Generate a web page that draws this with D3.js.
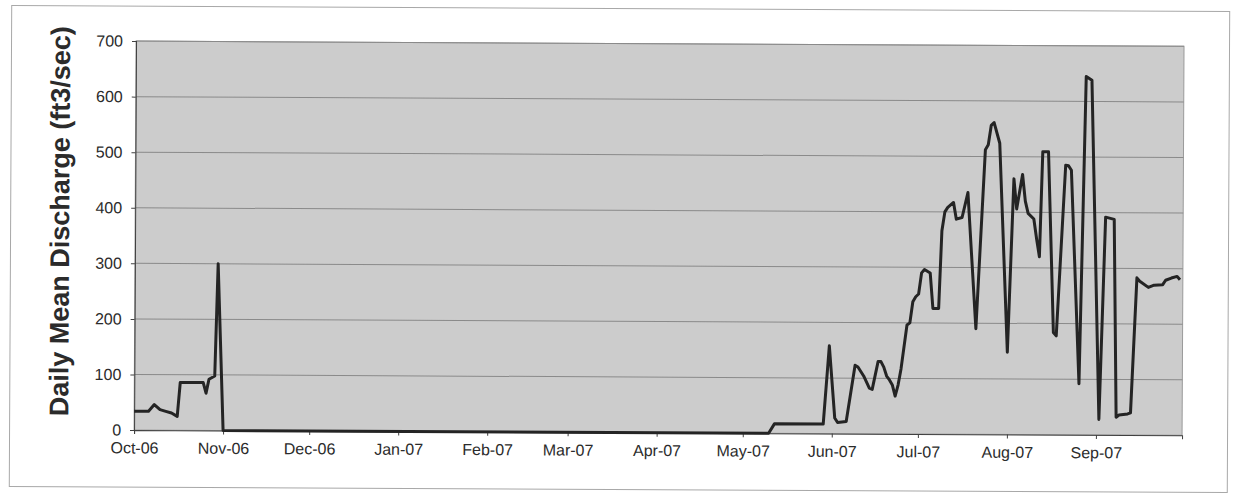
<!DOCTYPE html>
<html>
<head>
<meta charset="utf-8">
<script src="https://cdn.jsdelivr.net/npm/d3@7/dist/d3.min.js"></script>
<style>
  html, body { margin: 0; padding: 0; background: #ffffff; }
  svg { display: block; }
  text { font-family: "Liberation Sans", Arial, sans-serif; fill: #2b2b2b; }
</style>
</head>
<body>
<svg id="chart" width="1236" height="496"></svg>
<script>
// ---- data ----
const axisStart = "2006-10-01";
const axisEnd = "2007-10-01";

const obsDates = [
  "2006-10-01","2006-10-06","2006-10-08","2006-10-10","2006-10-12","2006-10-14","2006-10-16","2006-10-17",
  "2006-10-25","2006-10-26","2006-10-27","2006-10-29","2006-10-30","2006-11-01",
  "2007-05-10","2007-05-12","2007-05-29","2007-05-31","2007-06-02","2007-06-03","2007-06-06",
  "2007-06-09","2007-06-10","2007-06-12","2007-06-14","2007-06-15","2007-06-17","2007-06-18","2007-06-19",
  "2007-06-20","2007-06-21","2007-06-22","2007-06-23","2007-06-24","2007-06-25","2007-06-27","2007-06-28",
  "2007-06-29","2007-06-30","2007-07-01","2007-07-02","2007-07-03","2007-07-05","2007-07-06","2007-07-08",
  "2007-07-09","2007-07-10","2007-07-11","2007-07-13","2007-07-14","2007-07-16","2007-07-18","2007-07-21",
  "2007-07-24","2007-07-25","2007-07-26","2007-07-27","2007-07-29","2007-08-01","2007-08-03","2007-08-04",
  "2007-08-06","2007-08-07","2007-08-08","2007-08-10","2007-08-11","2007-08-12","2007-08-13","2007-08-15",
  "2007-08-17","2007-08-18","2007-08-21","2007-08-22","2007-08-23","2007-08-26","2007-08-28","2007-08-30",
  "2007-09-02","2007-09-04","2007-09-07","2007-09-08","2007-09-09","2007-09-12","2007-09-13","2007-09-15",
  "2007-09-16","2007-09-19","2007-09-21","2007-09-24","2007-09-25","2007-09-27","2007-09-29","2007-09-30"
];
const obsValues = [
  34, 34, 46, 37, 34, 31, 25, 86,
  86, 67, 92, 98, 300, 0,
  0, 17, 17, 158, 28, 20, 22,
  123, 120, 104, 82, 80, 130, 130, 120,
  104, 97, 88, 68, 88, 117, 196, 200,
  238, 247, 252, 290, 296, 290, 226, 226,
  366, 400, 408, 417, 387, 390, 435, 190,
  512, 521, 556, 561, 524, 148, 460, 406,
  468, 420, 398, 388, 352, 320, 509, 509,
  184, 178, 485, 484, 476, 92, 645, 638,
  28, 392, 388, 32, 36, 38, 40, 283,
  277, 266, 270, 271, 279, 283, 286, 280
];

const monthTickDates = ["2006-10-01","2006-11-01","2006-12-01","2007-01-01","2007-02-01","2007-03-01",
  "2007-04-01","2007-05-01","2007-06-01","2007-07-01","2007-08-01","2007-09-01"];
const monthTickLabels = ["Oct-06","Nov-06","Dec-06","Jan-07","Feb-07","Mar-07",
  "Apr-07","May-07","Jun-07","Jul-07","Aug-07","Sep-07"];
const yTickValues = [0, 100, 200, 300, 400, 500, 600, 700];
const yTitle = "Daily Mean Discharge (ft3/sec)";

// ---- drawing ----
const parse = d3.utcParse("%Y-%m-%d");
const W = 1236, H = 496;
const root = d3.select("#chart");
// the scanned original is very slightly rotated
const svg = root.append("g").attr("transform", `rotate(0.29 ${W / 2} ${H / 2})`);
const plot = { left: 135, right: 1183, top: 43.5, bottom: 432.5 };

const x = d3.scaleUtc()
  .domain([parse(axisStart), parse(axisEnd)])
  .range([plot.left, plot.right]);
const y = d3.scaleLinear()
  .domain([0, 700])
  .range([plot.bottom, plot.top]);

// outer frame
svg.append("rect")
  .attr("x", 10.5).attr("y", 8.5)
  .attr("width", 1218).attr("height", 481)
  .attr("fill", "#ffffff")
  .attr("stroke", "#a8a8a8").attr("stroke-width", 1);

// plot background
svg.append("rect")
  .attr("x", plot.left).attr("y", plot.top)
  .attr("width", plot.right - plot.left).attr("height", plot.bottom - plot.top)
  .attr("fill", "#cccccc")
  .attr("stroke", "#9a9a9a").attr("stroke-width", 1);

// gridlines
svg.append("g")
  .selectAll("line")
  .data(yTickValues.filter(v => v > 0))
  .join("line")
  .attr("x1", plot.left).attr("x2", plot.right)
  .attr("y1", d => y(d)).attr("y2", d => y(d))
  .attr("stroke", "#8a8a8a").attr("stroke-width", 1);

// y axis
const yAxis = d3.axisLeft(y)
  .tickValues(yTickValues)
  .tickSize(4)
  .tickPadding(9)
  .tickFormat(d3.format("d"));
const gy = svg.append("g")
  .attr("transform", `translate(${plot.left},0)`)
  .call(yAxis);
gy.select(".domain").attr("stroke", "#404040");
gy.selectAll(".tick line").attr("stroke", "#404040");
gy.selectAll(".tick text")
  .attr("font-size", 16)
  .attr("fill", "#2b2b2b")
  .style("font-family", "'Liberation Sans', Arial, sans-serif");

// x axis
const xAxis = d3.axisBottom(x)
  .tickValues(monthTickDates.map(parse))
  .tickSize(4)
  .tickPadding(8)
  .tickFormat((d, i) => monthTickLabels[i]);
const gx = svg.append("g")
  .attr("transform", `translate(0,${plot.bottom})`)
  .call(xAxis);
gx.select(".domain").attr("stroke", "#404040");
gx.selectAll(".tick line").attr("stroke", "#404040");
gx.selectAll(".tick text")
  .attr("font-size", 16)
  .attr("fill", "#2b2b2b")
  .style("font-family", "'Liberation Sans', Arial, sans-serif");

// y title
svg.append("text")
  .attr("transform", `translate(60,224) rotate(-90)`)
  .attr("text-anchor", "middle")
  .attr("dominant-baseline", "central")
  .attr("font-size", 27)
  .attr("font-weight", "bold")
  .attr("fill", "#2b2b2b")
  .text(yTitle);

// series
const series = obsDates.map((d, i) => ({ date: parse(d), value: obsValues[i] }));
const line = d3.line()
  .x(d => x(d.date))
  .y(d => y(d.value));
svg.append("path")
  .datum(series)
  .attr("d", line)
  .attr("fill", "none")
  .attr("stroke", "#242424")
  .attr("stroke-width", 3)
  .attr("stroke-linejoin", "round");
</script>
</body>
</html>
